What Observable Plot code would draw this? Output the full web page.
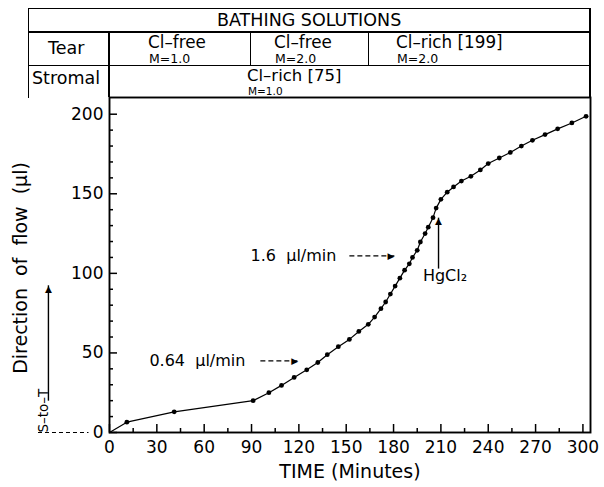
<!DOCTYPE html>
<html><head><meta charset="utf-8">
<script src="https://cdn.jsdelivr.net/npm/d3@7"></script>
<script src="https://cdn.jsdelivr.net/npm/@observablehq/plot@0.6"></script>
<style>
body{margin:0;background:#fff;}
#wrap{position:relative;width:604px;height:487px;font-family:"DejaVu Sans",sans-serif;color:#000;background:#fff;}
.ln{position:absolute;background:#000;}
.tx{position:absolute;white-space:nowrap;line-height:1;}
#chart{position:absolute;left:0;top:97px;}
</style></head><body>
<div id="wrap"><div id="chart"></div></div>
<script>
// ---- data ----
const time   = [0, 11, 41, 91, 101, 109, 117, 125, 132, 138, 145, 152, 158, 164, 168, 172, 175, 178, 181, 184, 187, 190, 192, 195, 197, 200, 202, 205, 207, 210, 214, 218, 223, 229, 235, 240, 247, 254, 261, 268, 276, 284, 293, 302];
const volume = [0, 6.5, 13, 20, 25, 29.6, 34.6, 39.4, 44, 48.9, 53.9, 58.5, 63.5, 68, 72.5, 77.8, 82, 87, 92, 97, 102, 106, 110, 114.5, 119.7, 125, 129, 135, 141, 146.5, 151, 154.3, 158, 161, 165, 169, 172.5, 176, 180, 183.6, 187.2, 190.8, 194.5, 198.7];
const xMajor = [0, 30, 60, 90, 120, 150, 180, 210, 240, 270, 300];
const xMinor = [15, 45, 75, 105, 135, 165, 195, 225, 255, 285];
const yMajor = [0, 50, 100, 150, 200];
const yMinor = [10, 20, 30, 40, 60, 70, 80, 90, 110, 120, 130, 140, 160, 170, 180, 190];
const xTitle = "TIME (Minutes)";
const yTitle = "Direction\u00a0\u00a0of\u00a0\u00a0flow\u00a0\u00a0(µl)";
const dirLabel = "S–to–T";
const annoText = ["0.64\u00a0\u00a0µl/min", "1.6\u00a0\u00a0µl/min", "HgCl₂"];
const annoTime = [25.3, 89.4, 198.6];
const annoVol  = [45, 111, 98.5];

// table texts
const tableTitle = "BATHING SOLUTIONS";
const rowLabels = ["Tear", "Stromal"];
const tearSolution = ["Cl–free", "Cl–free", "Cl–rich [199]"];
const tearMolarity = ["M=1.0", "M=2.0", "M=2.0"];
const stromalSolution = "Cl–rich [75]";
const stromalMolarity = "M=1.0";

// ---- table (HTML) ----
const wrap = document.getElementById("wrap");
function line(l, t, w, h) {
  const d = document.createElement("div"); d.className = "ln";
  Object.assign(d.style, {left: l + "px", top: t + "px", width: w + "px", height: h + "px"});
  wrap.appendChild(d);
}
function txt(s, l, t, fs) {
  const d = document.createElement("div"); d.className = "tx"; d.textContent = s;
  Object.assign(d.style, {left: l + "px", top: t + "px", fontSize: fs + "px"});
  wrap.appendChild(d);
}
line(27.5, 7.5, 563, 1.5);
line(27.5, 31.2, 563, 1.5);
line(27.5, 64.5, 563, 1.5);
line(27.5, 7.5, 1.6, 90);
line(589.2, 7.5, 1.6, 90);
line(108.2, 31.2, 1.6, 66);
line(249.5, 31.2, 1.5, 34.5);
line(367.5, 31.2, 1.5, 34.5);
txt(tableTitle, 217, 11.5, 17.5);
txt(rowLabels[0], 48, 40, 17.5);
txt(rowLabels[1], 32, 69.5, 17.5);
const solX = [148, 274, 396];
tearSolution.forEach((s, i) => txt(s, solX[i], 33.5, 16.8));
tearMolarity.forEach((s, i) => txt(s, solX[i] + 1, 52.8, 12.5));
txt(stromalSolution, 247, 67.5, 16.5);
txt(stromalMolarity, 248, 86, 10.5);

// ---- chart ----
const points = time.map((t, i) => ({t, v: volume[i]}));
const arrows = [
  {t1: 95.6, v1: 45, t2: 119.5, v2: 45, dashed: true, dir: "right"},
  {t1: 152, v1: 111, t2: 180.5, v2: 111, dashed: true, dir: "right"},
  {t1: 208.5, v1: 103, t2: 208.5, v2: 135, dashed: false, dir: "up"},
  {t1: -38.7, v1: 20, t2: -38.7, v2: 92.5, dashed: false, dir: "up"}
];
const annos = annoText.map((s, i) => ({s, t: annoTime[i], v: annoVol[i]}));

const chart = Plot.plot({
  width: 604, height: 390,
  marginTop: 0, marginRight: 14, marginBottom: 55, marginLeft: 109,
  x: {domain: [0, 304.8], label: null},
  y: {domain: [0, 210.5], label: null},
  style: {fontFamily: '"DejaVu Sans", sans-serif', fontSize: "17px", color: "#000", background: "transparent", overflow: "visible"},
  marks: [
    Plot.axisX(xMajor, {tickSize: 0, tickPadding: 8, fontSize: 17, label: null}),
    Plot.axisY(yMajor, {tickSize: 0, tickPadding: 6, fontSize: 17, label: null}),
    Plot.tickX(xMajor, {x: d => d, insetTop: 327, strokeWidth: 1.5}),
    Plot.tickX(xMinor, {x: d => d, insetTop: 331, strokeWidth: 1.5}),
    Plot.tickY(yMajor, {y: d => d, insetRight: 473, strokeWidth: 1.5}),
    Plot.tickY(yMinor, {y: d => d, insetRight: 477, strokeWidth: 1.5}),
    Plot.frame({strokeWidth: 1.9}),
    Plot.line(points, {x: "t", y: "v", strokeWidth: 1.2}),
    Plot.dot(points.slice(1), {x: "t", y: "v", r: 2.4, fill: "#000"}),
    Plot.text([xTitle], {frameAnchor: "bottom", dy: 45, fontSize: 19}),
    Plot.text([yTitle], {frameAnchor: "left", dx: -89, dy: 3, rotate: -90, textAnchor: "middle", fontSize: 19}),
    Plot.text([dirLabel], {x: -41.5, y: 0, rotate: -90, textAnchor: "start", fontSize: 13.5}),
    Plot.ruleY([0], {x1: -45, x2: -13, strokeDasharray: "4,3", strokeWidth: 1.2}),
    Plot.text(annos, {x: "t", y: "v", text: "s", textAnchor: "start", fontSize: 16}),
    Plot.link(arrows.filter(d => d.dashed), {x1: "t1", y1: "v1", x2: "t2", y2: "v2", strokeDasharray: "5,3", strokeWidth: 1.3}),
    Plot.link(arrows.filter(d => !d.dashed), {x1: "t1", y1: "v1", x2: "t2", y2: "v2", strokeWidth: 1.4}),
    Plot.text(arrows.filter(d => d.dir === "right"), {x: "t2", y: "v2", text: () => "▶", textAnchor: "end", lineAnchor: "middle", fontSize: 9}),
    Plot.text(arrows.filter(d => d.dir === "up"), {x: "t2", y: "v2", text: () => "▲", textAnchor: "middle", lineAnchor: "top", fontSize: 9})
  ]
});
document.getElementById("chart").appendChild(chart);
</script></body></html>
